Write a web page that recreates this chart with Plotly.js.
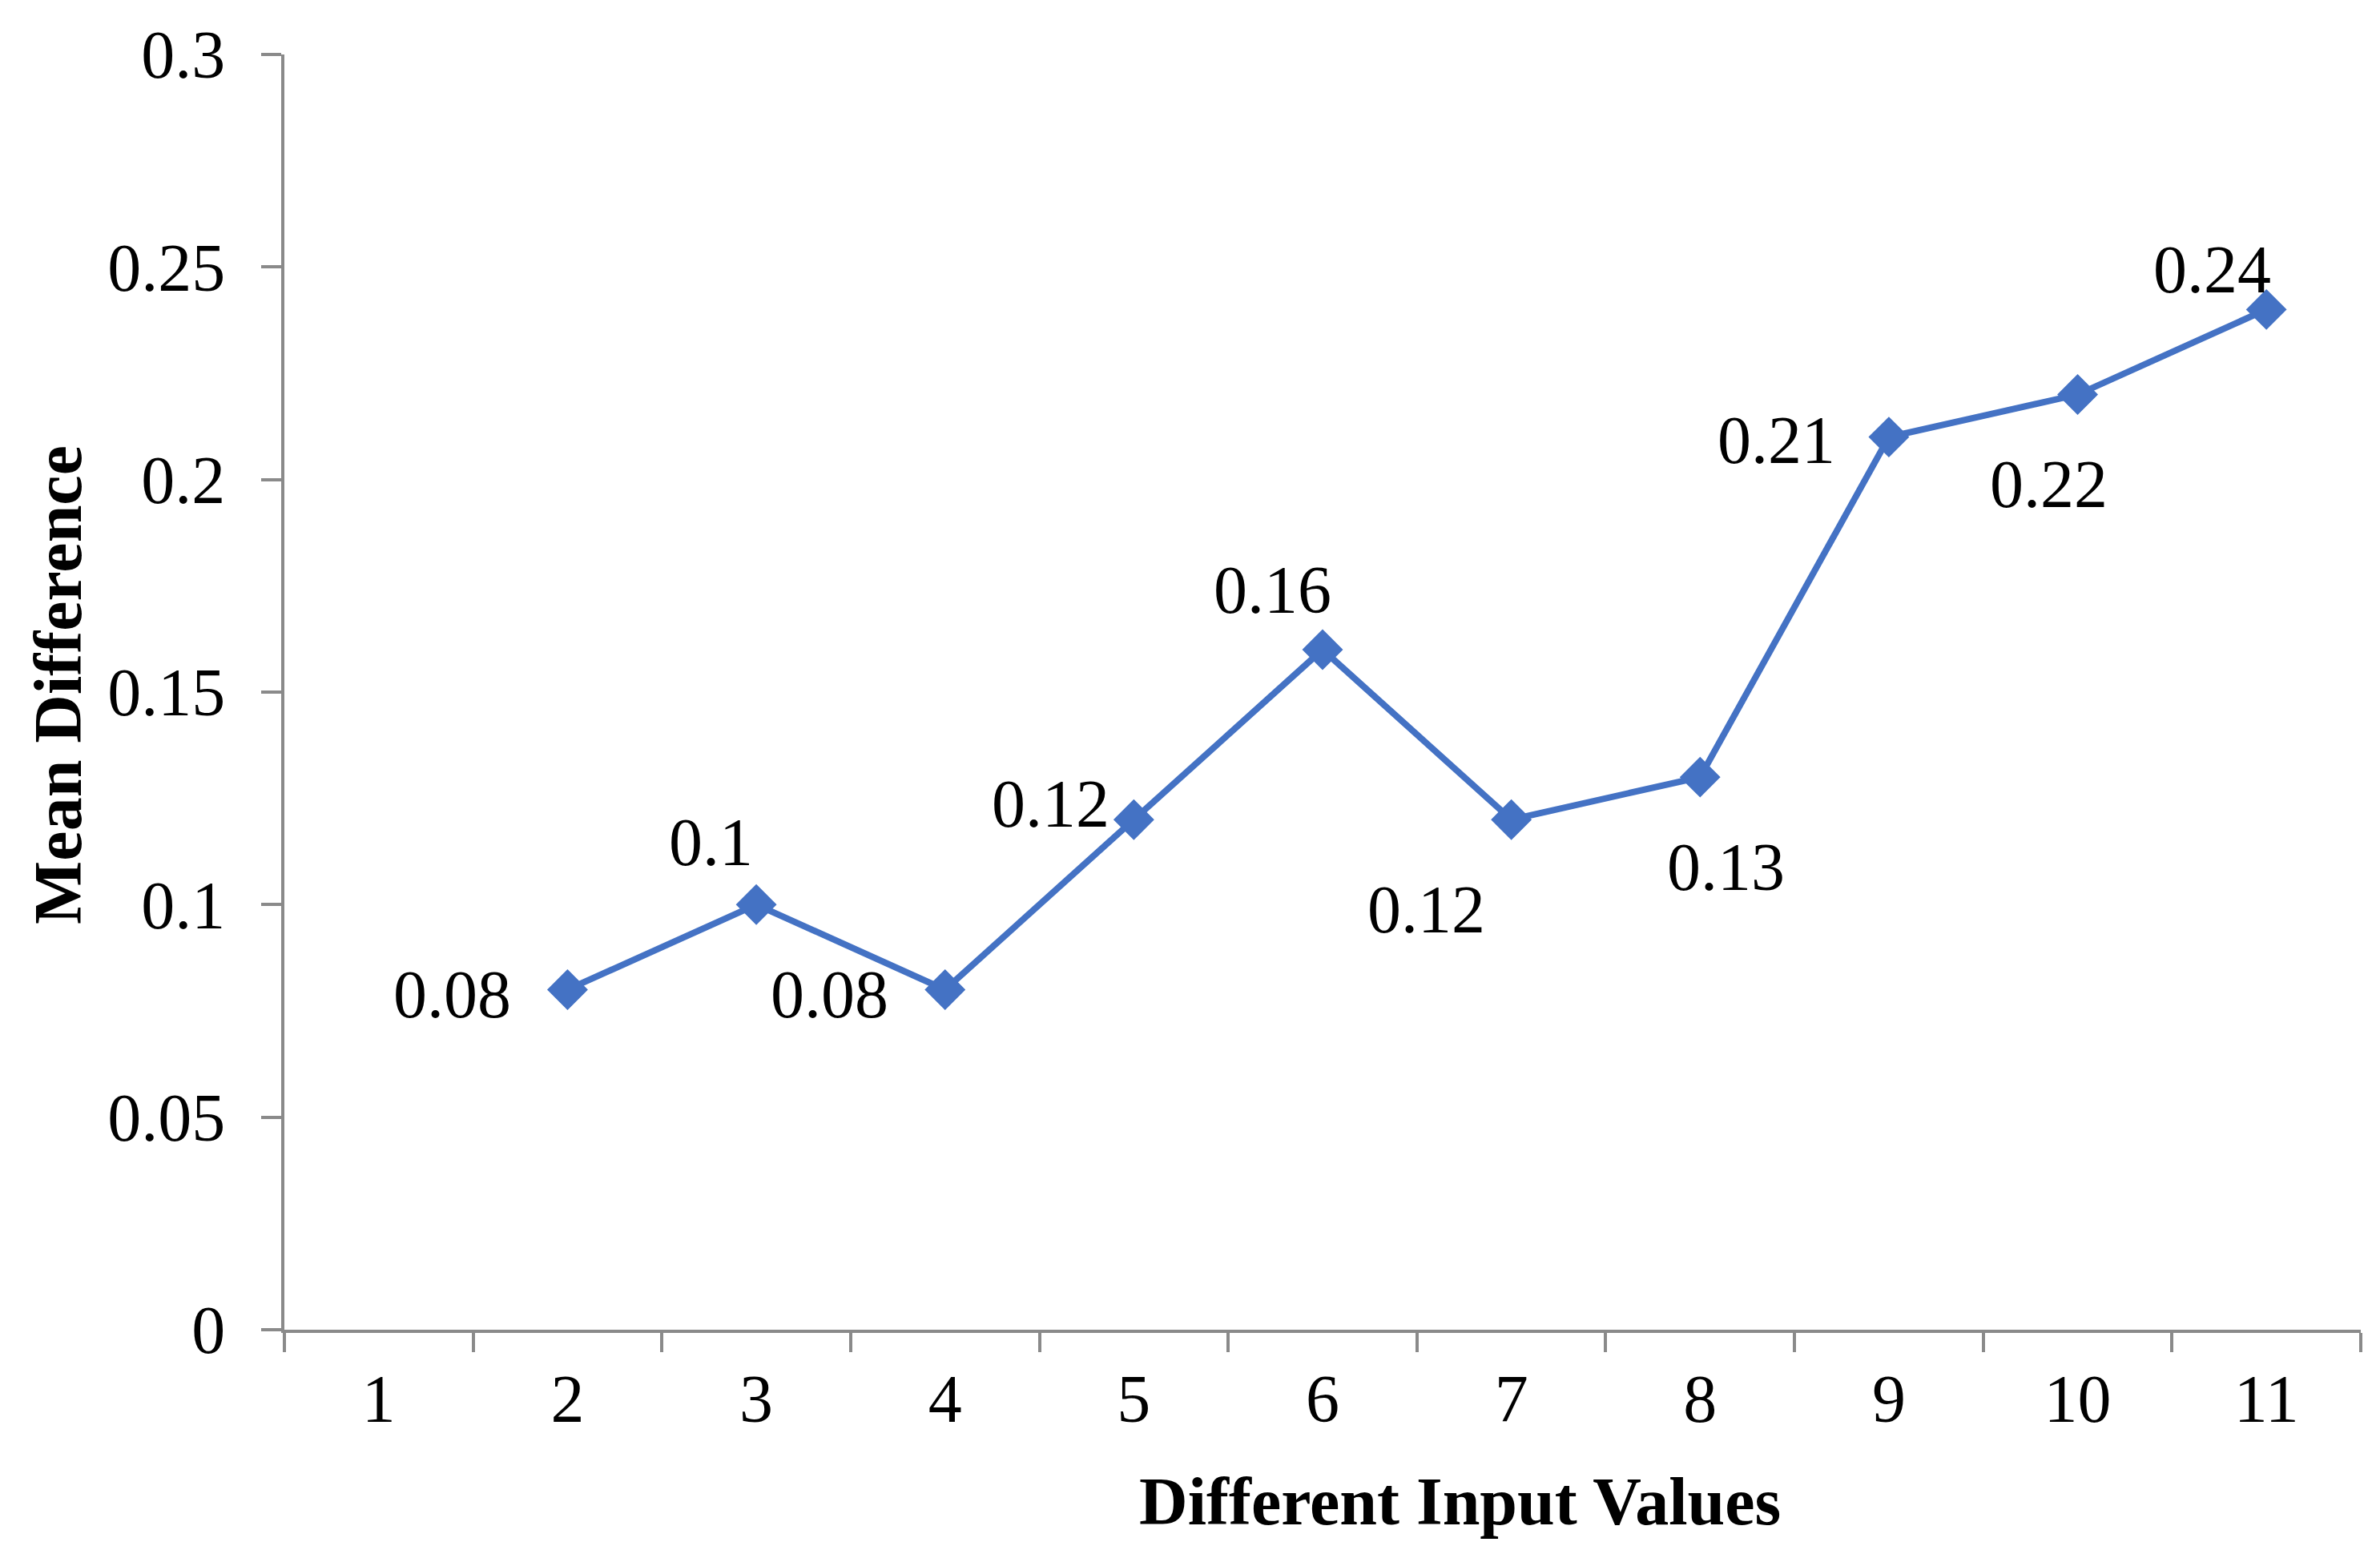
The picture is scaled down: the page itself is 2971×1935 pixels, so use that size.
<!DOCTYPE html>
<html>
<head>
<meta charset="utf-8">
<script src="https://cdn.plot.ly/plotly-3.0.1.min.js"></script>
<style>html,body{margin:0;padding:0;background:#fff;}#chart{width:2971px;height:1935px;}</style>
</head>
<body>
<div id="chart"></div>
<script>
// Data
var categories = ["1","2","3","4","5","6","7","8","9","10","11"];
var meanDiff = [null, 0.08, 0.10, 0.08, 0.12, 0.16, 0.12, 0.13, 0.21, 0.22, 0.24];
var labelText = ["", "0.08", "0.1", "0.08", "0.12", "0.16", "0.12", "0.13", "0.21", "0.22", "0.24"];
var yTickVals = [0, 0.05, 0.1, 0.15, 0.2, 0.25, 0.3];
var yTickText = ["0", "0.05", "0.1", "0.15", "0.2", "0.25", "0.3"];
var xTitle = "Different Input Values";
var yTitle = "Mean Difference";

// Label offsets (pixels) – style only
var labelDx = [0, -144, -57, -144, -104, -63, -106, 32, -140, -36, -68];
var labelDy = [0, -6, 78, -6, 20, 74, -112, -112, -4, -112, 50];

var FONT = "Liberation Serif, Times New Roman, serif";
var AXIS = "#8a8a8a";
var BLUE = "#4472C4";

var trace = {
  x: categories,
  y: meanDiff,
  type: "scatter",
  mode: "lines+markers",
  connectgaps: false,
  line: {color: BLUE, width: 8},
  marker: {symbol: "diamond", size: 37, color: BLUE, line: {color: BLUE, width: 2}},
  hoverinfo: "skip"
};

var annotations = [];
for (var i = 0; i < categories.length; i++) {
  if (meanDiff[i] === null) continue;
  annotations.push({
    x: i, y: meanDiff[i], xref: "x", yref: "y",   // category index on the category axis
    text: labelText[i], showarrow: false,
    xanchor: "center", yanchor: "middle",
    xshift: labelDx[i], yshift: labelDy[i],
    font: {family: FONT, size: 84, color: "#000"}
  });
}
annotations.push({
  text: "<b>" + xTitle + "</b>", xref: "paper", yref: "paper",
  x: 0.566, y: -0.135, xanchor: "center", yanchor: "middle", showarrow: false,
  font: {family: FONT, size: 84, color: "#000"}
});
annotations.push({
  text: "<b>" + yTitle + "</b>", xref: "paper", yref: "paper", textangle: -90,
  x: -0.109, y: 0.506, xanchor: "center", yanchor: "middle", showarrow: false,
  font: {family: FONT, size: 84, color: "#000"}
});

var layout = {
  width: 2971, height: 1935,
  margin: {l: 355, r: 24, t: 68, b: 275, pad: 0},
  paper_bgcolor: "#fff", plot_bgcolor: "#fff",
  showlegend: false,
  font: {family: FONT, size: 84, color: "#000"},
  xaxis: {
    type: "category",
    categoryorder: "array", categoryarray: categories,
    range: [-0.5, 10.5],
    showgrid: false, zeroline: false,
    showline: true, linecolor: AXIS, linewidth: 4,
    ticks: "outside", tickson: "boundaries", ticklen: 24, tickwidth: 4, tickcolor: AXIS,
    tickfont: {family: FONT, size: 84, color: "#000"},
    ticklabelstandoff: 10,
    fixedrange: true
  },
  yaxis: {
    range: [0, 0.3],
    tickmode: "array", tickvals: yTickVals, ticktext: yTickText,
    showgrid: false, zeroline: false,
    showline: true, linecolor: AXIS, linewidth: 4,
    ticks: "outside", ticklen: 25, tickwidth: 4, tickcolor: AXIS,
    tickfont: {family: FONT, size: 84, color: "#000"},
    ticklabelstandoff: 28,
    fixedrange: true
  },
  annotations: annotations
};

Plotly.newPlot("chart", [trace], layout, {displayModeBar: false, staticPlot: true});
</script>
</body>
</html>
